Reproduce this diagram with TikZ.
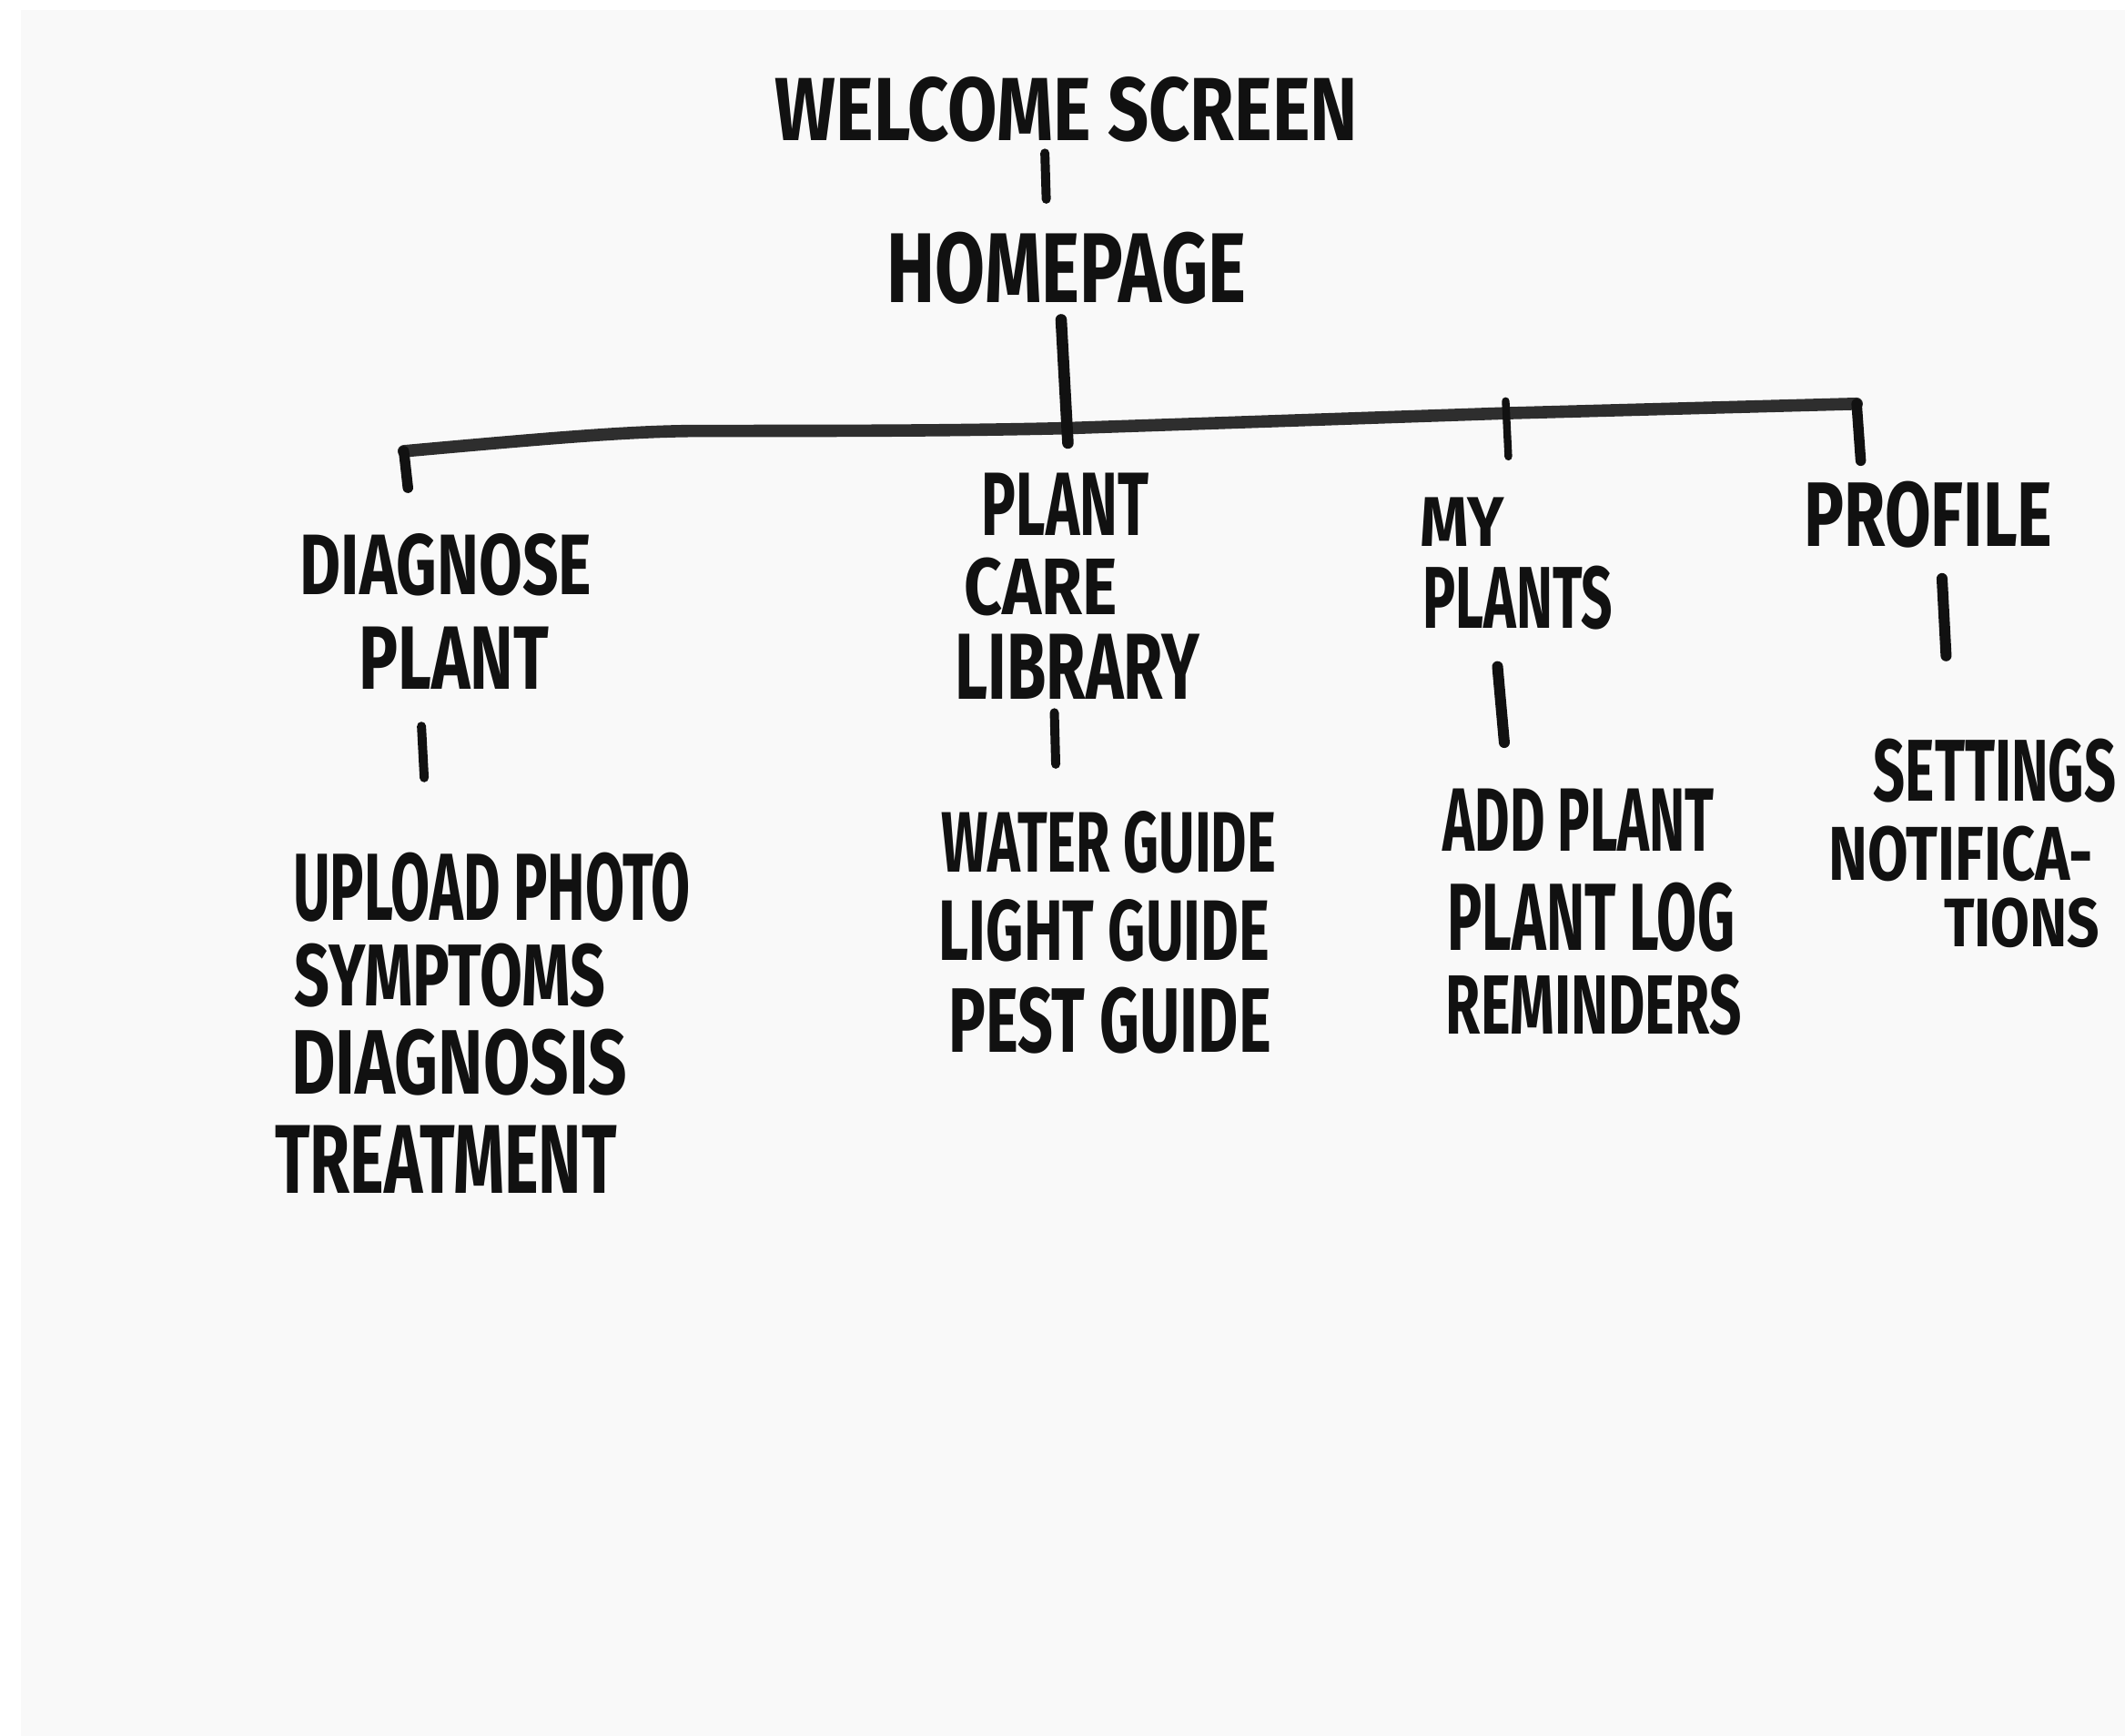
\documentclass[tikz,border=0pt]{standalone}
\usepackage{fontspec}
\setmainfont{Fira Sans}
\usepackage{graphicx}
\newlength\upx
\setlength\upx{0.01cm}
\newcommand\hw[3]{\resizebox{#1\upx}{#2\upx}{\bfseries #3}}
\definecolor{ink}{HTML}{111111}
\definecolor{bar}{HTML}{2E2E2E}
\definecolor{paper}{HTML}{F9F9F9}
\tikzset{
  lbl/.style={inner sep=0pt, outer sep=0pt, text=ink, anchor=center},
  tick/.style={draw=ink, line width=1.9pt, line cap=round},
  barline/.style={draw=bar, line width=2.6pt, line cap=round, line join=round},
}
\begin{document}
\begin{tikzpicture}[x=0.01cm,y=-0.01cm]
\useasboundingbox (0,0) rectangle (1568,1281);
\fill[white] (0,0) rectangle (1568,1281);
\fill[paper] (15.4,7.4) rectangle (1568,1281);

% texts
\node[lbl] (welcome) at (787,81) {\hw{430}{47}{WELCOME SCREEN}};
\node[lbl] (home) at (787,198) {\hw{265}{52}{HOMEPAGE}};

\node[lbl] (diagA) at (329,417) {\hw{215}{45}{DIAGNOSE}};
\node[lbl] (diagB) at (335,486) {\hw{140}{46}{PLANT}};
\node[lbl] (upload) at (363,655) {\hw{293}{50}{UPLOAD PHOTO}};
\node[lbl] (sympt) at (332,720) {\hw{229}{46}{SYMPTOMS}};
\node[lbl] (dgn) at (339,784) {\hw{248}{48}{DIAGNOSIS}};
\node[lbl] (treat) at (329,856) {\hw{252}{50}{TREATMENT}};

\node[lbl] (libA) at (786,372) {\hw{123}{46}{PLANT}};
\node[lbl] (libB) at (768,433) {\hw{113}{42}{CARE}};
\node[lbl] (libC) at (795,492) {\hw{180}{48}{LIBRARY}};
\node[lbl] (water) at (818,622) {\hw{247}{45}{WATER GUIDE}};
\node[lbl] (light) at (815,687) {\hw{244}{45}{LIGHT GUIDE}};
\node[lbl] (pest) at (819,753) {\hw{238}{48}{PEST GUIDE}};

\node[lbl] (myA) at (1079,385) {\hw{62}{36}{MY}};
\node[lbl] (myB) at (1120,441) {\hw{140}{46}{PLANTS}};
\node[lbl] (addp) at (1165,605) {\hw{200}{46}{ADD PLANT}};
\node[lbl] (plog) at (1174,677) {\hw{212}{50}{PLANT LOG}};
\node[lbl] (remind) at (1176,742) {\hw{218}{44}{REMINDERS}};

\node[lbl] (prof) at (1423,380) {\hw{183}{48}{PROFILE}};
\node[lbl] (sett) at (1472,569) {\hw{179}{46}{SETTINGS}};
\node[lbl] (notifA) at (1447,630) {\hw{195}{40}{NOTIFICA-}};
\node[lbl] (notifB) at (1492,681) {\hw{115}{36}{TIONS}};

% connector end points
\coordinate (w1) at (771,113);
\coordinate (h0) at (772,147);
\coordinate (h1) at (783,236);
\coordinate (bc) at (788,327);
\coordinate (bl) at (298,333);
\coordinate (blm) at (520,318);
\coordinate (bm) at (788,316);
\coordinate (bmy) at (1110,305);
\coordinate (br) at (1370,298);
\coordinate (dl) at (301,360);
\coordinate (mytop) at (1111,296);
\coordinate (mybot) at (1113,337);
\coordinate (dr) at (1373,340);
\coordinate (d1) at (311,536);
\coordinate (d2) at (313,574);
\coordinate (l1) at (778,526);
\coordinate (l2) at (779,564);
\coordinate (m1) at (1105,492);
\coordinate (m2) at (1110,548);
\coordinate (p1) at (1433,427);
\coordinate (p2) at (1436,484);

% connectors
\draw[tick] (w1) -- (h0);
\draw[barline] (bl) .. controls (420,322) and (470,318) .. (blm) .. controls (620,318) and (700,318) .. (bm) -- (bmy) -- (br);
\draw[tick, line width=2.4pt] (h1) -- (bc);
\draw[tick, line width=2.2pt] (bl) -- (dl);
\draw[tick, line width=1.6pt] (mytop) -- (mybot);
\draw[tick, line width=2.2pt] (br) -- (dr);
\draw[tick] (d1) -- (d2);
\draw[tick] (l1) -- (l2);
\draw[tick, line width=2.3pt] (m1) -- (m2);
\draw[tick, line width=2.3pt] (p1) -- (p2);
\end{tikzpicture}
\end{document}
